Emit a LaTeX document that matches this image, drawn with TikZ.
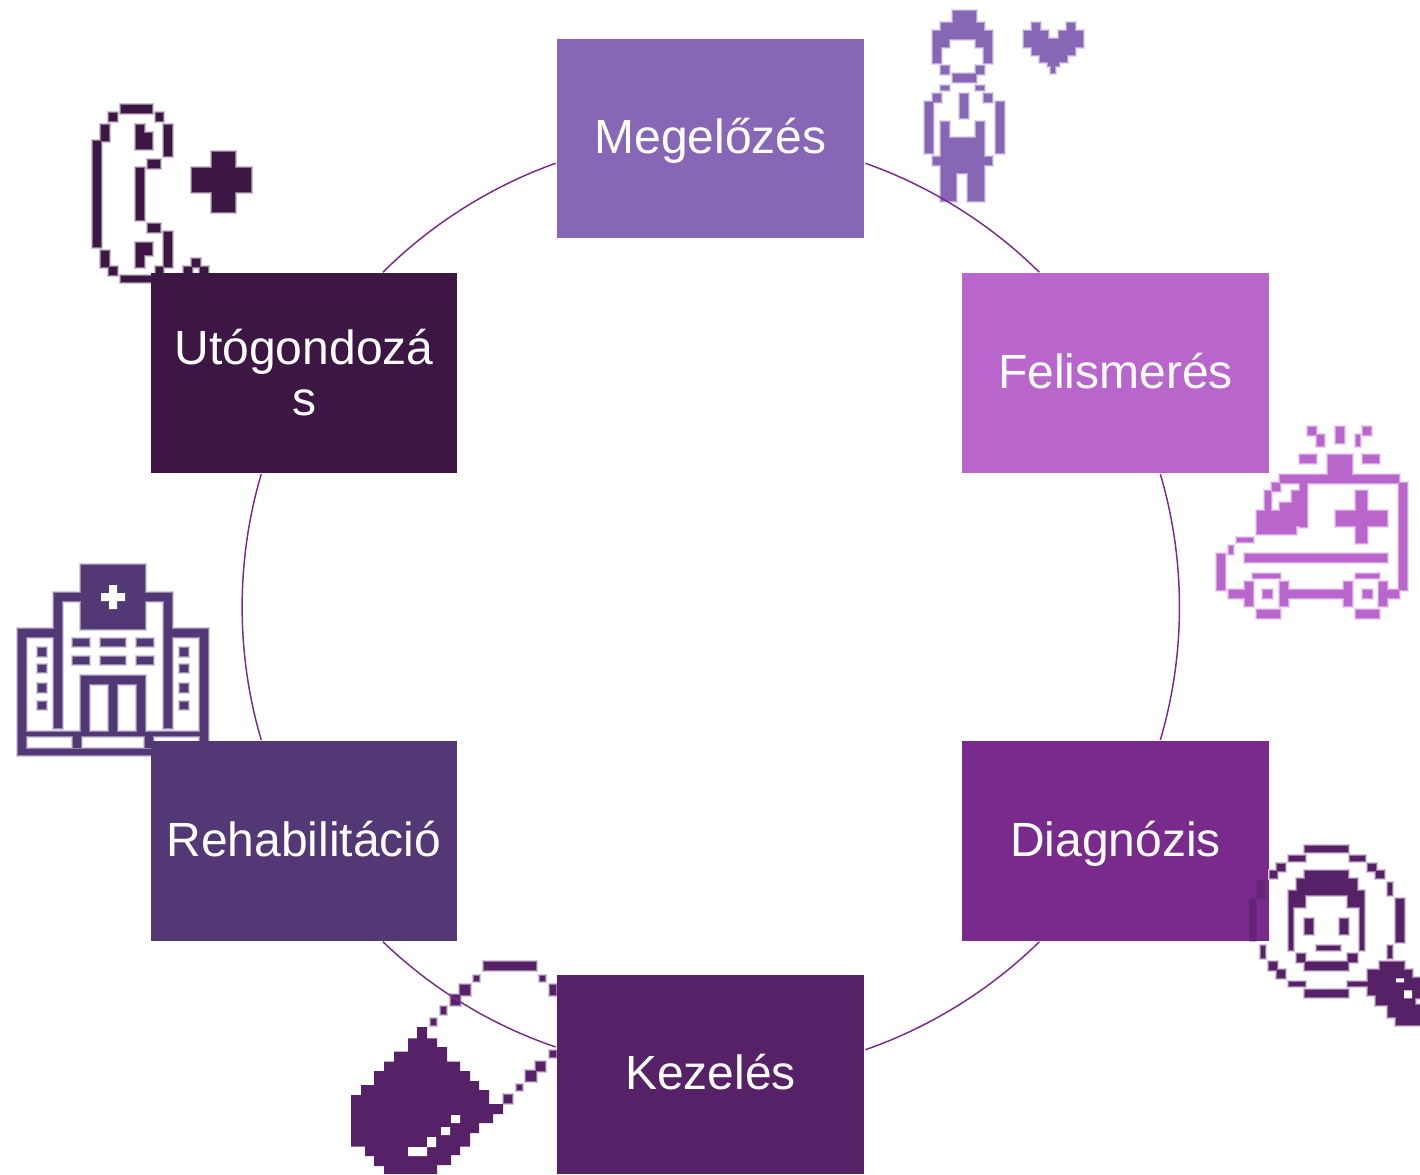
\documentclass[tikz,border=0pt]{standalone}
\usepackage{fontspec}
\setmainfont{Liberation Sans}
\definecolor{cMeg}{HTML}{8767B5}
\definecolor{cFel}{HTML}{B966CC}
\definecolor{cDia}{HTML}{782B8B}
\definecolor{cKez}{HTML}{572167}
\definecolor{cReh}{HTML}{523875}
\definecolor{cUto}{HTML}{3C1744}
\newcommand{\pixels}[2]{%
  \foreach \a/\b/\c/\d in {#2} {\fill[#1!25] (\a-6,\b-6) rectangle (\c+6,\d+6);}
  \foreach \a/\b/\c/\d in {#2} {\fill[#1!60] (\a-3,\b-3) rectangle (\c+3,\d+3);}
  \foreach \a/\b/\c/\d in {#2} {\fill[#1] (\a,\b) rectangle (\c,\d);}
}
\tikzset{
  stagebox/.style={rectangle,draw=none,inner sep=0pt,outer sep=0pt,minimum width=230.25pt,minimum height=149.6pt,
    text=white,align=center,font=\fontsize{36}{38.25}\selectfont,text height=24.5pt,text depth=2pt},
  twoline/.style={text height=,text depth=,minimum width=229.5pt},
  linkarc/.style={draw=cDia,line width=1.1pt,shorten <=1.1pt,shorten >=1.1pt},
  icongrid/.style={x=0.25pt,y=-0.25pt}
}
\begin{document}
\begin{tikzpicture}[x=0.75pt,y=-0.75pt]
\useasboundingbox (0,0) rectangle (1420,1174);
% person and heart
\begin{scope}[shift={(900,0)},icongrid]
\pixels{cMeg}{158/33/228/69,123/69/252/93,100/93/276/117,100/117/147/141,228/117/276/141,100/141/123/189,252/141/276/189,
123/198/147/222,228/198/252/222,158/222/228/245,123/258/147/270,228/258/252/270,100/282/123/305,252/282/276/305,
76/305/100/460,288/305/312/460,180/282/204/354,123/366/147/415,228/366/252/415,123/415/252/520,100/470/123/494,252/470/276/494,
123/520/168/603,204/520/252/603,
396/69/420/93,500/69/524/93,372/93/444/117,476/93/550/117,372/117/550/141,396/141/524/165,420/165/500/187,444/187/476/198,452/198/466/220}
\end{scope}
% telephone and plus
\begin{scope}[shift={(80,95)},icongrid]
\pixels{cUto}{122/30/217/54,88/54/110/78,228/54/250/78,64/90/88/138,252/90/276/184,38/138/62/456,64/468/88/515,252/410/276/515,
88/515/110/540,228/515/250/535,122/543/215/560,168/90/192/115,168/115/216/162,204/195/240/218,168/218/192/375,204/388/240/410,
168/445/216/480,168/480/192/515,396/172/465/350,336/218/514/292,336/492/360/515,312/515/336/535,360/515/385/535}
\end{scope}
% ambulance
\begin{scope}[shift={(1210,420)},icongrid]
\pixels{cFel}{294/21/318/45,378/21/402/69,460/21/482/45,320/45/342/78,438/45/450/78,270/105/318/129,460/105/508/129,354/105/426/165,
210/165/566/188,566/188/590/510,186/188/210/212,270/178/292/320,246/212/282/248,210/248/282/272,164/212/184/272,140/272/282/318,140/318/258/342,
438/212/470/368,378/272/530/318,80/354/130/366,57/378/69/402,21/402/45/510,57/510/105/534,105/402/530/426,
130/462/210/474,105/486/130/558,210/486/234/558,140/570/210/594,160/510/185/534,
438/462/508/474,402/486/426/558,508/486/532/558,438/570/508/594,460/510/485/534,234/510/402/534,532/510/566/534}
\end{scope}
% hospital
\begin{scope}[shift={(10,560)},icongrid]
\pixels{cReh}{213/15/405/207,132/99/213/123,405/99/486/123,132/123/156/504,462/123/486/504,24/207/156/231,474/207/594/231,24/231/48/586,570/231/594/586,
24/516/594/528,24/566/594/586,190/528/213/564,405/528/429/564,
189/237/237/258,273/237/345/258,381/237/429/258,189/291/237/312,273/291/345/312,381/291/429/312,
213/348/405/372,213/372/237/516,297/372/321/516,381/372/405/516,
84/264/108/288,84/316/108/336,84/372/108/396,84/426/108/447,510/264/534/288,510/316/534/336,510/372/534/396,510/426/534/447}
\fill[white] (297,75) rectangle (321,147) (273,99) rectangle (345,123);
\end{scope}
% capsule
\begin{scope}[shift={(345,955)},icongrid]
\pixels{cKez}{417/21/573/45,387/63/402/78,345/90/375/120,318/120/345/150,288/156/303/177,258/192/273/210,585/63/600/78,615/90/632/120,
615/288/632/306,573/321/600/348,543/348/573/378,516/390/531/405,477/420/500/444}
\fill[cKez] (216,216)--(246,216)--(246,250)--(276,250)--(276,276)--(306,276)--(306,320)--(345,320)--(345,348)--(375,348)--(375,378)--(402,378)--(402,405)--(432,405)--(432,447)--(474,447)--(474,477)--(444,477)--(444,504)--(402,504)--(402,534)--(375,534)--(375,575)--(345,575)--(345,600)--(318,600)--(318,630)--(276,630)--(276,657)--(117,657)--(117,633)--(87,633)--(87,603)--(60,603)--(60,575)--(18,575)--(18,420)--(48,420)--(48,390)--(87,390)--(87,348)--(117,348)--(117,320)--(147,320)--(147,290)--(189,290)--(189,250)--(216,250)--cycle;
\fill[white] (318,480) rectangle (345,504) (288,516) rectangle (315,540) (246,546) rectangle (273,576) (189,576) rectangle (246,603);
\end{scope}
% boxes
\node[stagebox,fill=cMeg] (m) at (710.5,138.5) {Megelőzés};
\node[stagebox,fill=cFel] (f) at (1115.5,373) {Felismerés};
\node[stagebox,fill=cDia] (d) at (1115.5,841) {Diagnózis};
\node[stagebox,fill=cKez] (k) at (710.5,1074.5) {Kezelés};
\node[stagebox,minimum width=229.5pt,fill=cReh] (r) at (304,841) {Rehabilitáció};
\node[stagebox,twoline,fill=cUto] (u) at (304,373) {Utógondozá\\s};
% connectors
\draw[linkarc] (m.-9.43) to[bend left=12.67,looseness=.862] (f.127.8);
\draw[linkarc] (f.-66) to[bend left=16.52,looseness=.87] (d.66);
\draw[linkarc] (d.-127.8) to[bend left=12.67,looseness=.862] (k.9.43);
\draw[linkarc] (k.170.57) to[bend left=12.67,looseness=.862] (r.-52.05);
\draw[linkarc] (r.113.7) to[bend left=16.52,looseness=.87] (u.-113.7);
\draw[linkarc] (u.52.05) to[bend left=12.67,looseness=.862] (m.189.43);
% magnifier
\begin{scope}[shift={(1240,835)},icongrid]
\fill[cKez,opacity=.55] (27,190) rectangle (50,320) (50,135) rectangle (75,190);
\pixels{cKez}{195/33/325/50,147/62/195/78,111/87/135/108,90/108/111/130,330/62/375/78,384/87/408/108,408/108/432/130,444/144/456/180,468/192/492/320,444/332/456/368,
63/332/75/368,87/380/111/404,111/404/135/428,147/440/195/452,195/464/325/486,325/440/384/452,
195/108/325/132,171/132/350/180,147/168/195/216,325/168/372/216,147/216/159/345,360/216/372/345,171/356/195/380,325/356/350/380,195/380/325/404,
195/252/219/296,300/252/325/296,230/332/300/345,
420/380/492/405,384/405/516/480,408/480/525/510,444/510/540/545,468/545/540/570,516/430/540/490}
\fill[white] (468,430) rectangle (492,442) (492,466) rectangle (516,490);
\end{scope}
\end{tikzpicture}
\end{document}
